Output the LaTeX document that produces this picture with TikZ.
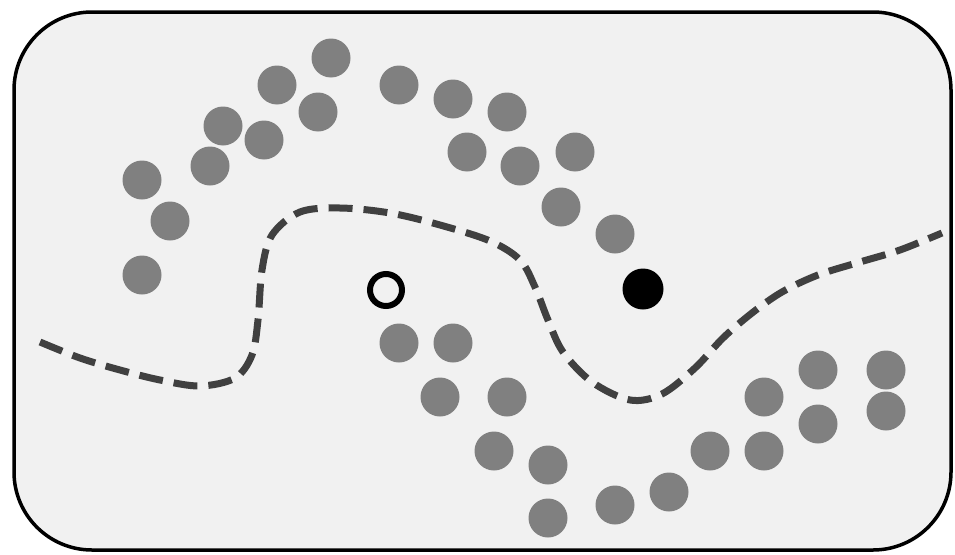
\documentclass[tikz,border=0pt]{standalone}
\begin{document}
\begin{tikzpicture}[x=1pt,y=-1pt,
  dot/.style={circle,fill=dotgray,draw=none,minimum size=39pt,inner sep=0pt},
  query/.style={circle,draw=black,line width=6pt,fill=none,minimum size=32pt,inner sep=0pt},
  target/.style={circle,fill=black,draw=none,minimum size=41pt,inner sep=0pt},
  boundary/.style={draw=curvegray,line width=7pt,dash pattern=on 24pt off 11pt}]
\definecolor{dotgray}{HTML}{808080}
\definecolor{curvegray}{HTML}{404040}
\definecolor{panel}{HTML}{F1F1F1}
\useasboundingbox (0,0) rectangle (955,554);
\fill[white] (0,0) rectangle (955,554);
\draw[fill=panel,line width=3.5pt,rounded corners=78pt] (14,12) rectangle (951,550);
% top arc of points
\foreach \x/\y [count=\i] in {331/58,277/85,318/112,223/126,264/140,210/166,142/180,170/221,142/275,399/85,453/99,507/112,467/152,520/166,575/152,561/207,615/234}
  \node[dot] (t\i) at (\x,\y) {};
% bottom arc of points
\foreach \x/\y [count=\i] in {399/343,453/343,440/397,507/397,494/451,548/465,548/518,615/505,669/492,710/451,764/397,764/451,818/370,818/424,886/370,886/411}
  \node[dot] (b\i) at (\x,\y) {};
\node[query] (q) at (386,290) {};
\node[target] (p) at (643,289) {};
% decision boundary
\draw[boundary] plot[smooth,tension=0.55] coordinates {
 (40,342) (80,358) (120,370) (160,380) (200,386) (235,378) (252,355) (258,320)
 (262,270) (272,235) (300,212) (340,208) (390,213) (440,225) (490,241) (520,260)
 (535,287) (548,320) (563,352) (592,382) (630,400) (662,394) (695,368) (723,338)
 (752,313) (782,292) (818,275) (860,262) (900,250) (942,233)};
\end{tikzpicture}
\end{document}
